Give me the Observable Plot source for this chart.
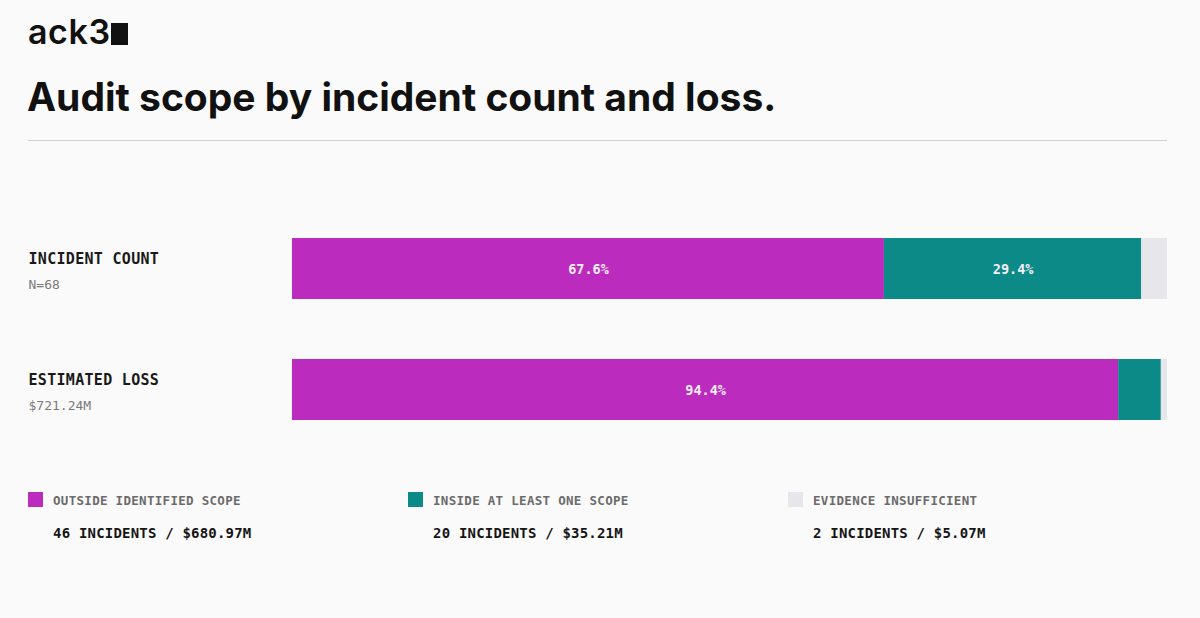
<!DOCTYPE html>
<html>
<head>
<meta charset="utf-8">
<script src="https://cdn.jsdelivr.net/npm/d3@7"></script>
<script src="https://cdn.jsdelivr.net/npm/@observablehq/plot@0.6"></script>
<style>
  html, body { margin: 0; padding: 0; background: #fafafa; width: 1200px; height: 618px; overflow: hidden; }
  #root { position: relative; width: 1200px; height: 618px; }
  .logo { position: absolute; left: 28px; top: 12px; font-family: Inter, sans-serif; font-weight: 600; font-size: 34px; letter-spacing: 0.6px; color: #111; line-height: 40px; }
  .logo .sq { display: inline-block; width: 17px; height: 22px; background: #111; margin-left: 0px; vertical-align: -1px; }
  .title { position: absolute; left: 27px; top: 72px; font-family: Inter, sans-serif; font-weight: 700; font-size: 39px; letter-spacing: 0px; color: #111; line-height: 50px; white-space: nowrap; }
  .rule { position: absolute; left: 28px; top: 140px; width: 1139px; height: 0; border-top: 1.5px solid #cfcfcf; }
  #chart { position: absolute; left: 0; top: 200px; }
  .legend { position: absolute; top: 492px; font-family: "DejaVu Sans Mono", monospace; }
  .legend .sw { position: absolute; left: 0; top: 0px; width: 15px; height: 15px; }
  .legend .lab { position: absolute; left: 25px; top: 1px; font-size: 12.5px; font-weight: bold; color: #6b6b6b; white-space: nowrap; letter-spacing: 0.3px; }
  .legend .val { position: absolute; left: 25px; top: 33px; font-size: 14px; font-weight: bold; color: #151515; white-space: nowrap; letter-spacing: 0.2px; }
</style>
</head>
<body>
<div id="root">
  <div class="logo">ack3<span class="sq"></span></div>
  <div class="title">Audit scope by incident count and loss.</div>
  <div class="rule"></div>
  <div id="chart"></div>
</div>
<script>
// ---- data ----
const metrics = ["INCIDENT COUNT", "ESTIMATED LOSS"];
const metricNotes = ["N=68", "$721.24M"];
const categories = ["OUTSIDE IDENTIFIED SCOPE", "INSIDE AT LEAST ONE SCOPE", "EVIDENCE INSUFFICIENT"];
const incidentCounts = [46, 20, 2];
const lossMillions = [680.97, 35.21, 5.07];
const colors = ["#bb2bbd", "#0b8a88", "#e7e7eb"];

// ---- build tidy table ----
const totalCount = d3.sum(incidentCounts);
const totalLoss = d3.sum(lossMillions);
const rows = [];
categories.forEach((c, i) => rows.push({metric: metrics[0], category: c, share: incidentCounts[i] / totalCount}));
categories.forEach((c, i) => rows.push({metric: metrics[1], category: c, share: lossMillions[i] / totalLoss}));
const labels = metrics.map((m, i) => ({metric: m, note: metricNotes[i]}));

const chart = Plot.plot({
  width: 1200,
  height: 250,
  marginLeft: 292,
  marginRight: 33,
  marginTop: 38,
  marginBottom: 30,
  style: {background: "transparent", overflow: "visible"},
  x: {domain: [0, 1], axis: null},
  y: {domain: metrics, axis: null, paddingInner: 0.496, paddingOuter: 0},
  color: {domain: categories, range: colors},
  marks: [
    Plot.barX(rows, Plot.stackX({x: "share", y: "metric", fill: "category", order: null})),
    Plot.text(rows, Plot.stackX({
      x: "share", y: "metric", order: null, dy: 1,
      text: d => d.share > 0.1 ? (d.share * 100).toFixed(1) + "%" : "",
      fill: "#f7eef7", fontFamily: "DejaVu Sans Mono, monospace", fontWeight: "bold", fontSize: 13.5
    })),
    Plot.text(labels, {
      y: "metric", text: "metric", frameAnchor: "left", textAnchor: "start", dx: -264, dy: -10,
      fontFamily: "DejaVu Sans Mono, monospace", fontWeight: "bold", fontSize: 15, fill: "#1a1a1a"
    }),
    Plot.text(labels, {
      y: "metric", text: "note", frameAnchor: "left", textAnchor: "start", dx: -264, dy: 16,
      fontFamily: "DejaVu Sans Mono, monospace", fontSize: 13, fill: "#7a7a7a"
    })
  ]
});
chart.querySelectorAll("text").forEach(t => {
  if (t.textContent === metrics[0] || t.textContent === metrics[1]) t.style.letterSpacing = "0.3px";
});
document.getElementById("chart").appendChild(chart);

// ---- legend ----
const root = document.getElementById("root");
categories.forEach((c, i) => {
  const g = document.createElement("div");
  g.className = "legend";
  g.style.left = (28 + i * 380) + "px";
  g.innerHTML = `<div class="sw" style="background:${colors[i]}"></div>
    <div class="lab">${c}</div>
    <div class="val">${incidentCounts[i]} INCIDENTS / $${lossMillions[i].toFixed(2)}M</div>`;
  root.appendChild(g);
});
</script>
</body>
</html>
